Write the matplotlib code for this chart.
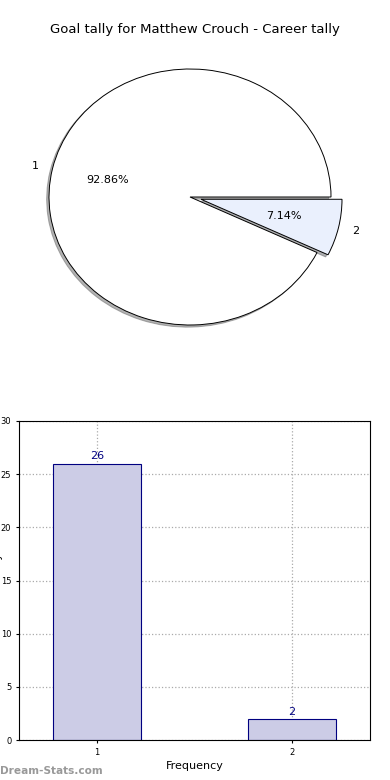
import matplotlib.pyplot as plt

# data
labels = ['1', '2']
counts = [26, 2]
explode = [0, 0.08]
pie_colors = ['#ffffff', '#eaf0fd']

fig = plt.figure(figsize=(3.9, 7.8), dpi=100)

# pie (ellipse-shaped, like the original)
ax1 = fig.add_axes([6.7 / 390, 416.6 / 780, 366.6 / 390, 332.8 / 780])
ax1.pie(counts, labels=labels, explode=explode, colors=pie_colors,
        autopct='%.2f%%', startangle=0,
        shadow={'ox': -0.012, 'oy': -0.012, 'shade': 0.6},
        wedgeprops={'edgecolor': 'black', 'linewidth': 0.7},
        textprops={'fontsize': 8})
ax1.set_aspect('auto')
ax1.set_xlim(-1.3, 1.3)
ax1.set_ylim(-1.3, 1.3)
fig.text(195 / 390, 1 - 30 / 780, 'Goal tally for Matthew Crouch - Career tally',
         ha='center', va='center', fontsize=9.5)

# bars
ax2 = fig.add_axes([19 / 390, 40 / 780, 351 / 390, 319 / 780])
x = [1, 2]
ax2.bar(x, counts, width=0.45, color='#ccccе6'.replace('е', 'e'),
        edgecolor='#000080', linewidth=0.8, zorder=2)
for xi, v in zip(x, counts):
    ax2.text(xi, v + 0.2, str(v), ha='center', va='bottom',
             fontsize=8, color='#000080')
ax2.set_xlim(0.6, 2.4)
ax2.set_ylim(0, 30)
ax2.set_xticks(x)
ax2.set_yticks(range(0, 31, 5))
ax2.tick_params(labelsize=6, length=2)
ax2.grid(True, linestyle=':', color='#aaaaaa', linewidth=0.9, zorder=0)
ax2.set_axisbelow(True)
ax2.set_xlabel('Frequency', fontsize=8, labelpad=3)
fig.text(-0.017, 200 / 780, 'Goal tally', rotation=90, ha='left',
         va='center', fontsize=8)

fig.text(0.0, 9 / 780, 'Dream-Stats.com', ha='left', va='center',
         fontsize=7.6, color='#999999', fontweight='bold')

fig.savefig('out.png', dpi=100)
